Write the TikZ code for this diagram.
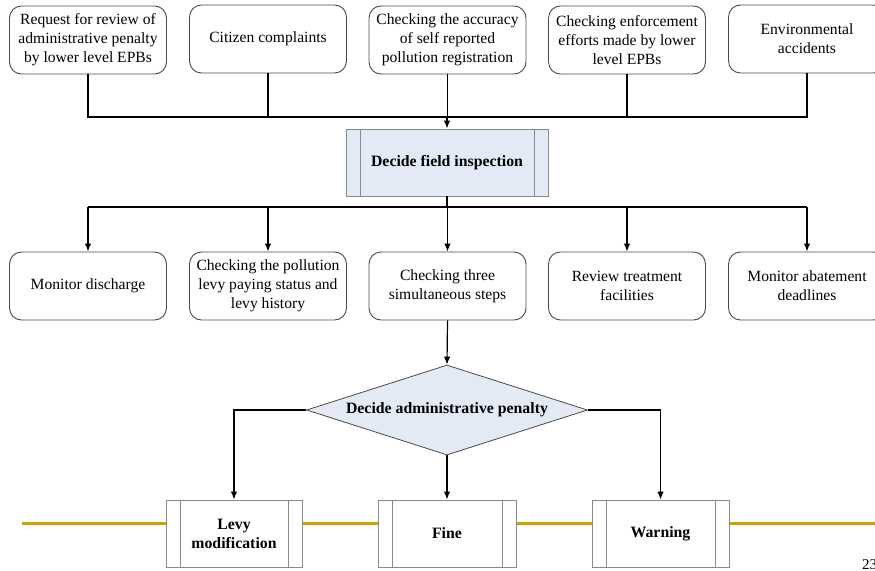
\documentclass[tikz,border=0pt]{standalone}
\usepackage{fontspec}
\setmainfont{Liberation Serif}
\usetikzlibrary{shapes.geometric,arrows.meta}
\definecolor{boxline}{HTML}{4A4A4A}
\definecolor{procline}{HTML}{8A8A8A}
\definecolor{procfill}{HTML}{E4EAF5}
\definecolor{railgold}{HTML}{D4A000}
\begin{document}
\begin{tikzpicture}[x=1pt,y=-1pt,
  every node/.style={font=\fontsize{15.6}{19}\selectfont, align=center, inner sep=0pt},
  roundbox/.style={draw=boxline, line width=0.9pt, rounded corners=12pt, fill=white,
    minimum width=157pt, minimum height=68pt},
  procbox/.style={draw=procline, line width=0.9pt, minimum height=67pt,
    font=\fontsize{15.8}{19}\selectfont\bfseries,
    path picture={
      \draw[procline, line width=0.9pt]
        ([xshift=14pt]path picture bounding box.north west) -- ([xshift=14pt]path picture bounding box.south west)
        ([xshift=-14pt]path picture bounding box.north east) -- ([xshift=-14pt]path picture bounding box.south east);
    }},
  decision/.style={diamond, aspect=3.1, draw=boxline, line width=0.8pt, fill=procfill,
    minimum width=281pt, minimum height=90pt, font=\fontsize{15.8}{19}\selectfont\bfseries},
  link/.style={draw=black, line width=1.2pt},
  arrow/.style={link, -{Latex[length=8pt,width=6.5pt]}},
  rail/.style={draw=railgold, line width=3pt}
]
\useasboundingbox (0,0) rectangle (875,570);

% gold rail behind the outcome boxes
\coordinate (ra) at (22,523);
\coordinate (rb) at (875,523);
\draw[rail] (ra) -- (rb);

% triggers
\node[roundbox] (t1) at (88,40)  {Request for review of\\administrative penalty\\by lower level EPBs};
\node[roundbox] (t2) at (268,39) {Citizen complaints};
\node[roundbox] (t3) at (447.5,40) {Checking the accuracy\\of self reported\\pollution registration};
\node[roundbox] (t4) at (627,40) {Checking enforcement\\efforts made by lower\\level EPBs};
\node[roundbox] (t5) at (807,39) {Environmental\\accidents};

% field inspection decision
\node[procbox, fill=procfill, minimum width=202pt] (dfi) at (447,162.5) {Decide field inspection};

% inspection activities
\node[roundbox] (m1) at (88,286)  {Monitor discharge};
\node[roundbox] (m2) at (268,286) {Checking the pollution\\levy paying status and\\levy history};
\node[roundbox] (m3) at (447.5,286) {Checking three\\simultaneous steps};
\node[roundbox] (m4) at (627,286) {Review treatment\\facilities};
\node[roundbox] (m5) at (807,286) {Monitor abatement\\deadlines};

% penalty decision
\node[decision] (dap) at (447,410) {Decide administrative penalty};

% outcomes
\node[procbox, fill=white, minimum width=136pt] (levy) at (234,533.5) {Levy\\modification};
\node[procbox, fill=white, minimum width=138pt] (fine) at (447,533.5) {Fine};
\node[procbox, fill=white, minimum width=137pt] (warn) at (660.5,533.5) {Warning};

% page number
\node[font=\fontsize{15}{17}\selectfont, anchor=north west] (pg) at (862,559) {23};

% gather triggers
\coordinate (tj) at (447,117);
\foreach \n in {t1,t2,t3,t4,t5} \draw[link] (\n.south) |- (tj);
\draw[arrow] (tj) -- (dfi.north);

% fan out to activities
\coordinate (mj) at (447,207);
\draw[link] (dfi.south) -- (mj);
\draw[link] (m1.north |- mj) -- (m5.north |- mj);
\foreach \n in {m1,m2,m3,m4,m5} \draw[arrow] (\n.north |- mj) -- (\n.north);

% penalty branches
\draw[arrow] (m3.south) -- (dap.north);
\draw[arrow] (dap.west) -| (levy.north);
\draw[arrow] (dap.south) -- (fine.north);
\draw[arrow] (dap.east) -| (warn.north);
\end{tikzpicture}
\end{document}
